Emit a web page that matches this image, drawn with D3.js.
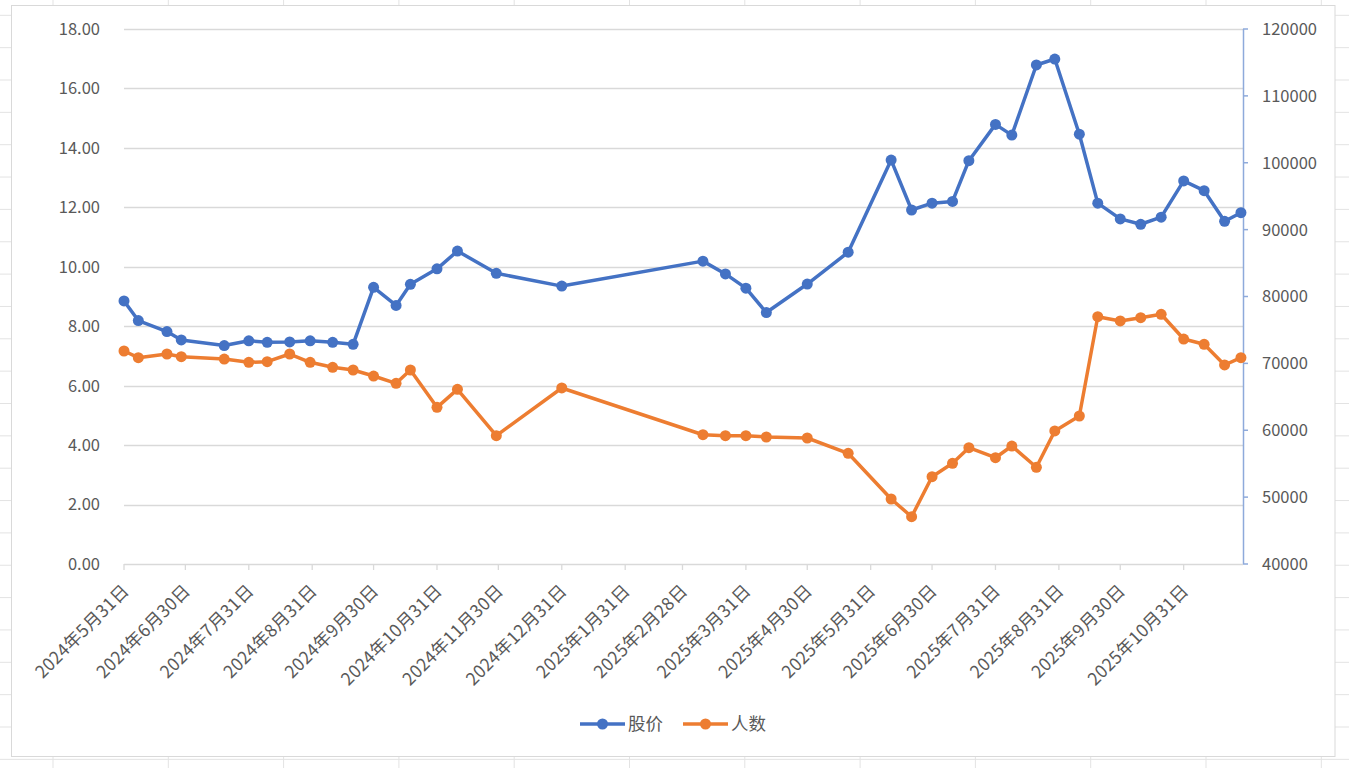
<!DOCTYPE html>
<html>
<head>
<meta charset="utf-8">
<script src="https://cdn.jsdelivr.net/npm/d3@7"></script>
<style>
  html, body { margin: 0; padding: 0; background: #ffffff; }
  svg { display: block; }
  text { font-family: "Noto Sans CJK SC", "Noto Sans", sans-serif; }
</style>
</head>
<body>
<svg id="chart" width="1349" height="768"></svg>
<script>
// ---------- data ----------
const dates = ["2024-05-31","2024-06-07","2024-06-21","2024-06-28","2024-07-19","2024-07-31","2024-08-09","2024-08-20","2024-08-30","2024-09-10","2024-09-20","2024-09-30","2024-10-11","2024-10-18","2024-10-31","2024-11-10","2024-11-29","2024-12-31","2025-03-10","2025-03-21","2025-03-31","2025-04-10","2025-04-30","2025-05-20","2025-06-10","2025-06-20","2025-06-30","2025-07-10","2025-07-18","2025-07-31","2025-08-08","2025-08-20","2025-08-29","2025-09-10","2025-09-19","2025-09-30","2025-10-10","2025-10-20","2025-10-31","2025-11-10","2025-11-20","2025-11-28"];
const price = [8.85,8.19,7.82,7.54,7.35,7.51,7.46,7.47,7.51,7.46,7.39,9.31,8.70,9.41,9.93,10.53,9.78,9.35,10.19,9.76,9.28,8.46,9.42,10.49,13.59,11.91,12.14,12.20,13.57,14.79,14.43,16.79,16.99,14.46,12.14,11.61,11.43,11.67,12.89,12.56,11.53,11.82];
const holders = [71850,70850,71400,71000,70650,70160,70250,71400,70160,69410,69010,68110,67020,69010,63430,66120,59190,66320,59330,59190,59190,58990,58840,56550,49720,47070,53050,55060,57390,55890,57640,54460,59890,62130,76980,76340,76830,77340,73640,72850,69760,70850];
const seriesNames = ["股价", "人数"];
const xDomain = ["2024-05-31", "2025-11-29"];
const tickDates = ["2024-05-31","2024-06-30","2024-07-31","2024-08-31","2024-09-30","2024-10-31","2024-11-30","2024-12-31","2025-01-31","2025-02-28","2025-03-31","2025-04-30","2025-05-31","2025-06-30","2025-07-31","2025-08-31","2025-09-30","2025-10-31"];
const tickLabels = ["2024年5月31日","2024年6月30日","2024年7月31日","2024年8月31日","2024年9月30日","2024年10月31日","2024年11月30日","2024年12月31日","2025年1月31日","2025年2月28日","2025年3月31日","2025年4月30日","2025年5月31日","2025年6月30日","2025年7月31日","2025年8月31日","2025年9月30日","2025年10月31日"];
const leftTicks = [0,2,4,6,8,10,12,14,16,18];
const rightTicks = [40000,50000,60000,70000,80000,90000,100000,110000,120000];

// ---------- setup ----------
const W = 1349, H = 768;
const svg = d3.select("#chart");
const parse = d3.utcParse("%Y-%m-%d");
const plot = { left: 124, right: 1243, top: 29, bottom: 564 };
const colors = ["#4472c4", "#ed7d31"];
const textColor = "#595959";

// sheet background grid
const bg = svg.append("g");
for (let x = 53; x < W; x += 115.3) {
  bg.append("line").attr("x1", x).attr("x2", x).attr("y1", 0).attr("y2", H)
    .attr("stroke", "#e3e3e3").attr("stroke-width", 1);
}
for (let y = 15.3; y < H; y += 32.35) {
  bg.append("line").attr("x1", 0).attr("x2", W).attr("y1", y).attr("y2", y)
    .attr("stroke", "#e3e3e3").attr("stroke-width", 1);
}
// chart frame
svg.append("rect").attr("x", 11.5).attr("y", 5.5).attr("width", 1323.5).attr("height", 751)
  .attr("fill", "#ffffff").attr("stroke", "#d9d9d9").attr("stroke-width", 1);

const x = d3.scaleUtc().domain(xDomain.map(parse)).range([plot.left, plot.right]);
const yL = d3.scaleLinear().domain([0, 18]).range([plot.bottom, plot.top]);
const yR = d3.scaleLinear().domain([40000, 120000]).range([plot.bottom, plot.top]);

// gridlines
svg.append("g").selectAll("line").data(leftTicks.filter(d => d > 0)).join("line")
  .attr("x1", plot.left).attr("x2", plot.right)
  .attr("y1", d => Math.round(yL(d)) + 0.5).attr("y2", d => Math.round(yL(d)) + 0.5)
  .attr("stroke", "#d9d9d9").attr("stroke-width", 1.3);

// left axis labels
svg.append("g").selectAll("text").data(leftTicks).join("text")
  .attr("x", 100).attr("y", d => yL(d)).attr("dy", "0.36em")
  .attr("text-anchor", "end").attr("fill", textColor).attr("font-size", 16.5)
  .text(d => d3.format(".2f")(d));

// right axis
const gR = svg.append("g");
gR.append("line").attr("x1", plot.right + 0.5).attr("x2", plot.right + 0.5)
  .attr("y1", plot.top).attr("y2", plot.bottom).attr("stroke", "#8eaadb").attr("stroke-width", 1.5);
gR.selectAll("line.t").data(rightTicks).join("line").attr("class", "t")
  .attr("x1", plot.right).attr("x2", plot.right + 5)
  .attr("y1", d => yR(d)).attr("y2", d => yR(d))
  .attr("stroke", "#8eaadb").attr("stroke-width", 1.5);
gR.selectAll("text").data(rightTicks).join("text")
  .attr("x", 1262).attr("y", d => yR(d)).attr("dy", "0.36em")
  .attr("text-anchor", "start").attr("fill", textColor).attr("font-size", 16.5)
  .text(d => d);

// x axis
const gX = svg.append("g");
gX.append("line").attr("x1", plot.left).attr("x2", plot.right)
  .attr("y1", plot.bottom + 0.5).attr("y2", plot.bottom + 0.5)
  .attr("stroke", "#d9d9d9").attr("stroke-width", 1.3);
gX.selectAll("line.t").data(tickDates).join("line").attr("class", "t")
  .attr("x1", d => x(parse(d))).attr("x2", d => x(parse(d)))
  .attr("y1", plot.bottom).attr("y2", plot.bottom + 6)
  .attr("stroke", "#d9d9d9").attr("stroke-width", 1.3);
gX.selectAll("text").data(tickDates).join("text")
  .attr("transform", d => `translate(${x(parse(d)) + 6},${plot.bottom + 28}) rotate(-45)`)
  .attr("text-anchor", "end").attr("fill", textColor).attr("font-size", 17.5)
  .attr("letter-spacing", "0.3px")
  .text((d, i) => tickLabels[i]);

// series
const pts = dates.map((d, i) => ({ date: parse(d), p: price[i], h: holders[i] }));
const lineP = d3.line().x(d => x(d.date)).y(d => yL(d.p));
const lineH = d3.line().x(d => x(d.date)).y(d => yR(d.h));

svg.append("path").datum(pts).attr("d", lineP).attr("fill", "none")
  .attr("stroke", colors[0]).attr("stroke-width", 3.5).attr("stroke-linejoin", "round");
svg.append("g").selectAll("circle").data(pts).join("circle")
  .attr("cx", d => x(d.date)).attr("cy", d => yL(d.p)).attr("r", 5.5).attr("fill", colors[0]);

svg.append("path").datum(pts).attr("d", lineH).attr("fill", "none")
  .attr("stroke", colors[1]).attr("stroke-width", 3.5).attr("stroke-linejoin", "round");
svg.append("g").selectAll("circle").data(pts).join("circle")
  .attr("cx", d => x(d.date)).attr("cy", d => yR(d.h)).attr("r", 5.5).attr("fill", colors[1]);

// legend
const legend = svg.append("g");
const legItems = [{ x: 580, name: seriesNames[0], c: colors[0] }, { x: 683, name: seriesNames[1], c: colors[1] }];
legItems.forEach(it => {
  legend.append("line").attr("x1", it.x).attr("x2", it.x + 45).attr("y1", 724).attr("y2", 724)
    .attr("stroke", it.c).attr("stroke-width", 3.5);
  legend.append("circle").attr("cx", it.x + 22.5).attr("cy", 724).attr("r", 5.5).attr("fill", it.c);
  legend.append("text").attr("x", it.x + 48).attr("y", 724).attr("dy", "0.36em")
    .attr("fill", textColor).attr("font-size", 17.5).text(it.name);
});
</script>
</body>
</html>
